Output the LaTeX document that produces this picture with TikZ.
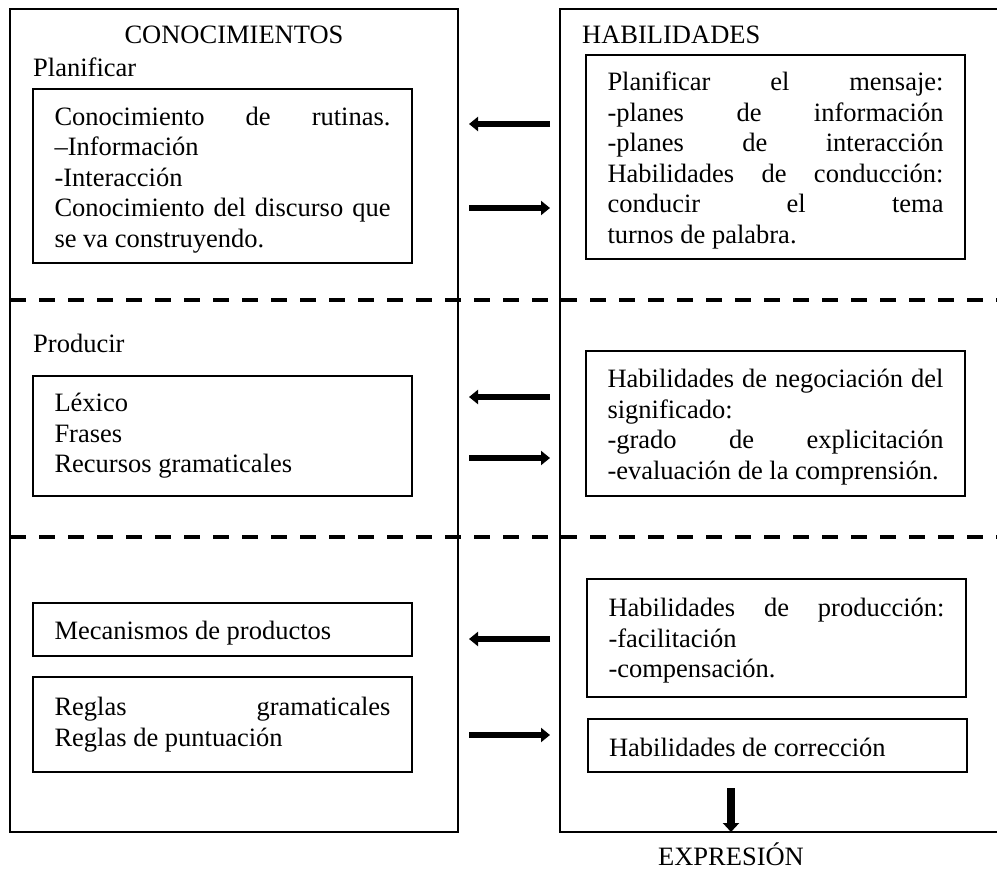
\documentclass[tikz,border=0pt]{standalone}
\usepackage{fontspec}
\setmainfont{Liberation Serif}
\usepackage{tikz}
\usetikzlibrary{arrows.meta}
\newlength\anchotexto
\setlength\anchotexto{336pt}
\newcommand{\renglon}[1]{{\spaceskip=0.25em plus 1fill\relax\makebox[\anchotexto][s]{#1}}}

\begin{document}
\begin{tikzpicture}[x=1pt,y=-1pt,
    font=\fontsize{26.5}{30.5}\selectfont,
    marco/.style={line width=1.8pt},
    caja/.style={draw,line width=2pt,text width=\anchotexto,inner xsep=21.5pt,inner ysep=0pt,
        execute at begin node={\hyphenpenalty=10000\spaceskip=0.25em plus 0.125em minus 0.08em\relax\rule{0pt}{#1}}},
    caja/.default=26pt,
    rotulo/.style={inner sep=0pt},
    divisor/.style={line width=4pt,dash pattern=on 16pt off 13pt},
    flecha/.style={line width=6.5pt,-{Triangle[length=9pt,width=14pt]}},
    flechav/.style={line width=8pt,-{Triangle[length=9pt,width=16pt]}}]
    \useasboundingbox (0,0) rectangle (997,869);
    % marcos y separaciones
    \draw[marco] (10,9) rectangle (458,832);
    \draw[marco] (997,9)--(560,9)--(560,832)--(997,832);
    \draw[divisor] (10,300)--(997,300);
    \draw[divisor] (10,537)--(997,537);
    % titulos
    \node[rotulo](conoc) at (234,35){CONOCIMIENTOS};
    \node[rotulo,anchor=west](habil) at (582,35){HABILIDADES};
    \node[rotulo,anchor=west](planif) at (33,67){Planificar};
    \node[rotulo,anchor=west](produc) at (33,343){Producir};
    % cajas de conocimientos
    \node[caja,minimum height=174pt](rutinas) at (222.5,176){\renglon{Conocimiento de rutinas.}\\
        –Información\\ -Interacción\\ \renglon{Conocimiento del discurso que}\\ se va construyendo.};
    \node[caja=0pt,minimum height=120pt](lexico) at (222.5,436){Léxico\\ Frases\\ Recursos gramaticales};
    \node[caja,minimum height=53pt](mecan) at (222.5,629.5){Mecanismos de productos};
    \node[caja=0pt,minimum height=95pt](reglas) at (222.5,724.5){\renglon{Reglas gramaticales}\\ Reglas de puntuación};
    % cajas de habilidades
    \node[caja,minimum height=204pt](mensaje) at (775.5,157){\renglon{Planificar el mensaje:}\\
        \renglon{-planes de información}\\ \renglon{-planes de interacción}\\
        \renglon{Habilidades de conducción:}\\ \renglon{conducir el tema}\\ turnos de palabra.};
    \node[caja,minimum height=145pt](negoc) at (775.5,423.5){\renglon{Habilidades de negociación del}\\
        significado:\\ \renglon{-grado de explicitación}\\ -evaluación de la comprensión.};
    \node[caja=24pt,minimum height=118pt](prodhab) at (776.5,638){\renglon{Habilidades de producción:}\\
        -facilitación\\ -compensación.};
    \node[caja=22pt,minimum height=53pt](correc) at (777,745.5){Habilidades de corrección};
    % flechas entre columnas
    \coordinate (izq) at (469,0);
    \coordinate (der) at (550,0);
    \foreach \y in {124,397,639} \draw[flecha] (der |- 0,\y)--(izq |- 0,\y);
    \foreach \y in {208,458,735} \draw[flecha] (izq |- 0,\y)--(der |- 0,\y);
    % salida
    \node[rotulo,anchor=base](expr) at (731,865){EXPRESIÓN};
    \coordinate (salida) at (expr.center |- 0,832);
    \draw[flechav] (salida)++(0,-44)--(salida);
\end{tikzpicture}
\end{document}
